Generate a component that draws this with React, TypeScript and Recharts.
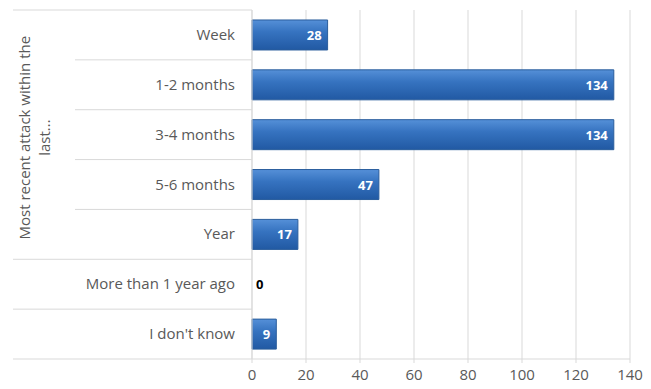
import React from "react";
import { BarChart, Bar, XAxis, YAxis, CartesianGrid, LabelList } from "recharts";

const categories = ["Week", "1-2 months", "3-4 months", "5-6 months", "Year", "More than 1 year ago", "I don't know"];
const counts = [28, 134, 134, 47, 17, 0, 9];
const xTicks = [0, 20, 40, 60, 80, 100, 120, 140];
const groupLabelLines = ["Most recent attack within the", "last..."];
const groupSize = 5;

const data = categories.map((c, i) => ({ category: c, count: counts[i] }));

const W = 651;
const H = 389;
const M = { top: 10, right: 21, left: 0, bottom: 0 };
const X_AXIS_H = 30;
const Y_AXIS_W = 252;
const PLOT_H = H - M.top - M.bottom - X_AXIS_H;
const BAND = PLOT_H / categories.length;
const FONT = "'Open Sans', 'Noto Sans', sans-serif";
const TEXT = "#595959";
const LINE = "#d9d9d9";

const CategoryTick = (props: any) => {
  const { y, payload, index } = props;
  const bottom = y + BAND / 2;
  const top = y - BAND / 2;
  const inGroup = index < groupSize - 1;
  const value = counts[index];
  return (
    <g>
      {index === 0 && <line x1={13} y1={top} x2={Y_AXIS_W} y2={top} stroke={LINE} strokeWidth={1} />}
      <line x1={inGroup ? 75 : 13} y1={bottom} x2={Y_AXIS_W} y2={bottom} stroke={LINE} strokeWidth={1} />
      <text x={235} y={y} dy={5} textAnchor="end" fill={TEXT} fontSize={15} fontFamily={FONT}>
        {payload.value}
      </text>
      {value === 0 && (
        <text x={Y_AXIS_W + 4} y={y} dy={5} fill="#000" fontWeight="bold" fontSize={13} fontFamily={FONT}>
          {value}
        </text>
      )}
      {index === 2 && (
        <g>
          {groupLabelLines.map((l, k) => (
            <text
              key={k}
              x={0}
              y={0}
              transform={`translate(${30 + k * 20}, ${y + 3}) rotate(-90)`}
              textAnchor="middle"
              fill={TEXT}
              fontSize={15}
              fontFamily={FONT}
            >
              {l}
            </text>
          ))}
        </g>
      )}
    </g>
  );
};

const ValueLabel = (props: any) => {
  const { x, y, width, height, value } = props;
  if (!value) return null;
  return (
    <text x={x + width - 6} y={y + height / 2} dy={5} textAnchor="end" fill="#fff" fontWeight="bold" fontSize={13} fontFamily={FONT}>
      {value}
    </text>
  );
};

export default function App() {
  return (
    <div style={{ position: "absolute", left: 0, top: 0, background: "#fff" }}>
      <BarChart width={W} height={H} data={data} layout="vertical" margin={M} barCategoryGap="20%">
        <defs>
          <linearGradient id="barGrad" x1="0" y1="0" x2="0" y2="1">
            <stop offset="0%" stopColor="#5590d8" />
            <stop offset="40%" stopColor="#3673c0" />
            <stop offset="100%" stopColor="#2159a3" />
          </linearGradient>
        </defs>
        <CartesianGrid horizontal={false} stroke={LINE} />
        <XAxis
          type="number"
          domain={[0, 140]}
          ticks={xTicks}
          height={X_AXIS_H}
          tick={{ fill: TEXT, fontSize: 15, fontFamily: FONT }}
          axisLine={{ stroke: LINE }}
          tickLine={{ stroke: LINE }}
          tickSize={4}
          tickMargin={6}
        />
        <YAxis
          type="category"
          dataKey="category"
          width={Y_AXIS_W}
          tick={<CategoryTick />}
          axisLine={{ stroke: LINE }}
          tickLine={false}
          interval={0}
        />
        <Bar dataKey="count" fill="url(#barGrad)" stroke="#2a5d9c" strokeWidth={1} isAnimationActive={false}>
          <LabelList dataKey="count" content={<ValueLabel />} />
        </Bar>
      </BarChart>
    </div>
  );
}
